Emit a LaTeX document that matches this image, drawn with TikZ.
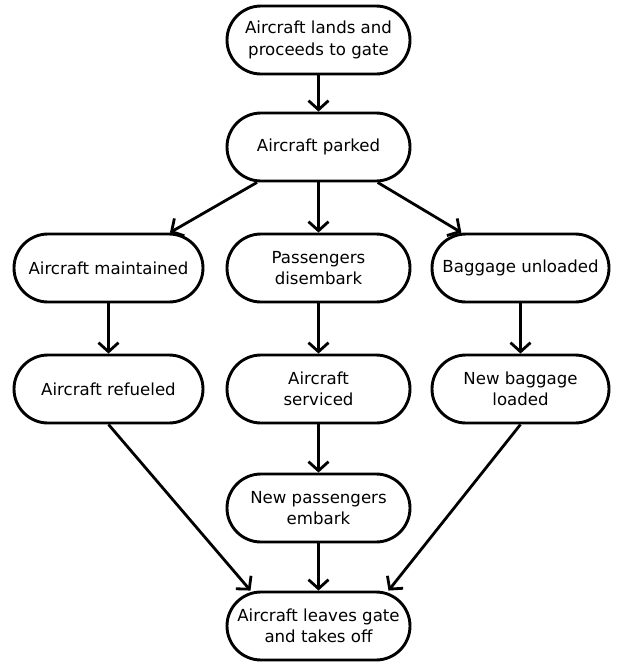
\documentclass[tikz,border=0pt]{standalone}
\usepackage{fontspec}
\setmainfont{DejaVu Sans}
\usetikzlibrary{positioning, arrows.meta}

\begin{document}
\begin{tikzpicture}[x=1pt, y=1pt,
        stage/.style={draw, line width=2.9pt, rounded corners=34pt, minimum width=183pt, minimum height=68pt, align=center, font=\fontsize{16.6}{21.5}\selectfont},
        flow/.style={line width=2.8pt, ->, >={Straight Barb[length=9pt, width=20pt, line width=2.8pt]}}]
        \useasboundingbox (0,0) rectangle (618,-665);
        \draw (318.5,-40) node[stage] (lands) {Aircraft lands and\\proceeds to gate}
              (318.5,-147) node[stage] (parked) {Aircraft parked};
        \draw (108.5,-268) node[stage, minimum width=189pt] (maint) {Aircraft maintained}
              (318.5,-268) node[stage] (disemb) {Passengers\\disembark}
              (520.5,-268) node[stage, minimum width=177pt] (unload) {Baggage unloaded};
        \draw (108.5,-389) node[stage, minimum width=189pt] (refuel) {Aircraft refueled}
              (318.5,-389) node[stage] (service) {Aircraft\\serviced}
              (520.5,-389) node[stage, minimum width=177pt] (newbag) {New baggage\\loaded};
        \draw (318.5,-508) node[stage] (embark) {New passengers\\embark}
              (318.5,-626) node[stage] (leave) {Aircraft leaves gate\\and takes off};
        \draw[flow] (lands) -- (parked);
        \draw[flow] (parked) -- (maint);
        \draw[flow] (parked) -- (disemb);
        \draw[flow] (parked) -- (unload);
        \draw[flow] (maint) -- (refuel);
        \draw[flow] (disemb) -- (service);
        \draw[flow] (unload) -- (newbag);
        \draw[flow] (service) -- (embark);
        \draw[flow] (refuel.south) -- ([xshift=-68pt]leave.north);
        \draw[flow] (embark) -- (leave);
        \draw[flow] (newbag.south) -- ([xshift=70pt]leave.north);
    \end{tikzpicture}
\end{document}
